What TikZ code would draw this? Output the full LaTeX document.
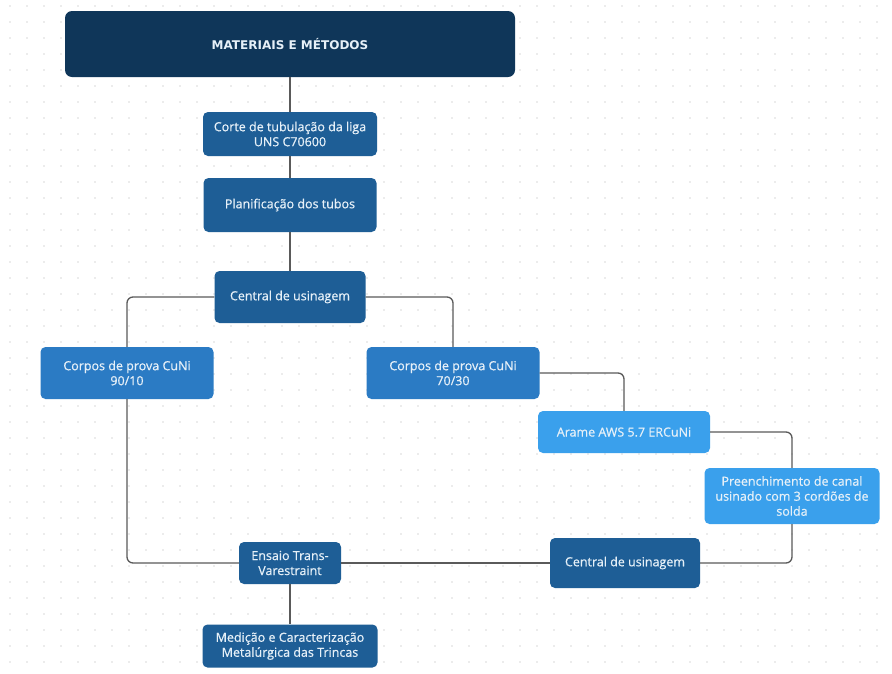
\documentclass[tikz,border=0pt]{standalone}
\usepackage{fontspec}
\setmainfont{Open Sans}
\newfontfamily\boxfont{Open Sans}[FakeBold=0.6]
\newfontfamily\titlefont{DejaVu Sans}
\definecolor{navy}{HTML}{0F3659}
\definecolor{boxdark}{HTML}{1E5E96}
\definecolor{boxmid}{HTML}{2B7BC4}
\definecolor{boxlight}{HTML}{3AA0EC}
\definecolor{boxtext}{HTML}{E6F0F8}
\definecolor{linkgray}{HTML}{5A5A5A}
\definecolor{dotgray}{HTML}{DADADA}
\tikzset{
  box/.style={rounded corners=5pt, fill=boxdark, text=boxtext, align=center, inner sep=2pt, font=\boxfont\fontsize{12.5}{15}\selectfont},
  midbox/.style={box, fill=boxmid},
  lightbox/.style={box, fill=boxlight},
  link/.style={draw=linkgray, line width=1.3pt, rounded corners=6pt},
}

\begin{document}
\begin{tikzpicture}[x=1pt, y=-1pt]
\useasboundingbox (0,0) rectangle (892,673);
\fill[white] (0,0) rectangle (892,673);
\foreach \x in {10,27,...,892}
  \foreach \y in {6,22,...,673}
    \fill[dotgray] (\x,\y) circle (0.9pt);

\node[box, fill=navy, rounded corners=7pt, minimum width=450pt, minimum height=66pt, font=\titlefont\bfseries\fontsize{12}{14}\selectfont] (title) at (290,44) {MATERIAIS E MÉTODOS};
\node[box, minimum width=174pt, minimum height=44pt] (corte) at (290,134) {Corte de tubulação da liga\\UNS C70600};
\node[box, minimum width=173pt, minimum height=54pt] (planif) at (290,205) {Planificação dos tubos};
\node[box, minimum width=151pt, minimum height=52pt] (central) at (290,297) {Central de usinagem};
\node[midbox, minimum width=173pt, minimum height=52pt] (cuni90) at (127,373) {Corpos de prova CuNi\\90/10};
\node[midbox, minimum width=173pt, minimum height=52pt] (cuni70) at (453,373) {Corpos de prova CuNi\\70/30};
\node[lightbox, minimum width=172pt, minimum height=42pt] (arame) at (624,432) {Arame AWS 5.7 ERCuNi};
\node[lightbox, minimum width=175pt, minimum height=56pt] (preench) at (792,496) {Preenchimento de canal\\usinado com 3 cordões de\\solda};
\node[box, minimum width=150pt, minimum height=50pt] (central2) at (625,563) {Central de usinagem};
\node[box, minimum width=102pt, minimum height=42pt] (ensaio) at (290,563) {Ensaio Trans-\\Varestraint};
\node[box, minimum width=175pt, minimum height=43pt] (medicao) at (290,646) {Medição e Caracterização\\Metalúrgica das Trincas};

\draw[link] (title) -- (corte);
\draw[link] (corte) -- (planif);
\draw[link] (planif) -- (central);
\draw[link] (central.west) -| (cuni90.north);
\draw[link] (central.east) -| (cuni70.north);
\draw[link] (cuni70.east) -| (arame.north);
\draw[link] (arame.east) -| (preench.north);
\draw[link] (preench.south) |- (central2.east);
\draw[link] (central2.west) -- (ensaio.east);
\draw[link] (ensaio.west) -| (cuni90.south);
\draw[link] (ensaio.south) -- (medicao.north);
\end{tikzpicture}
\end{document}
